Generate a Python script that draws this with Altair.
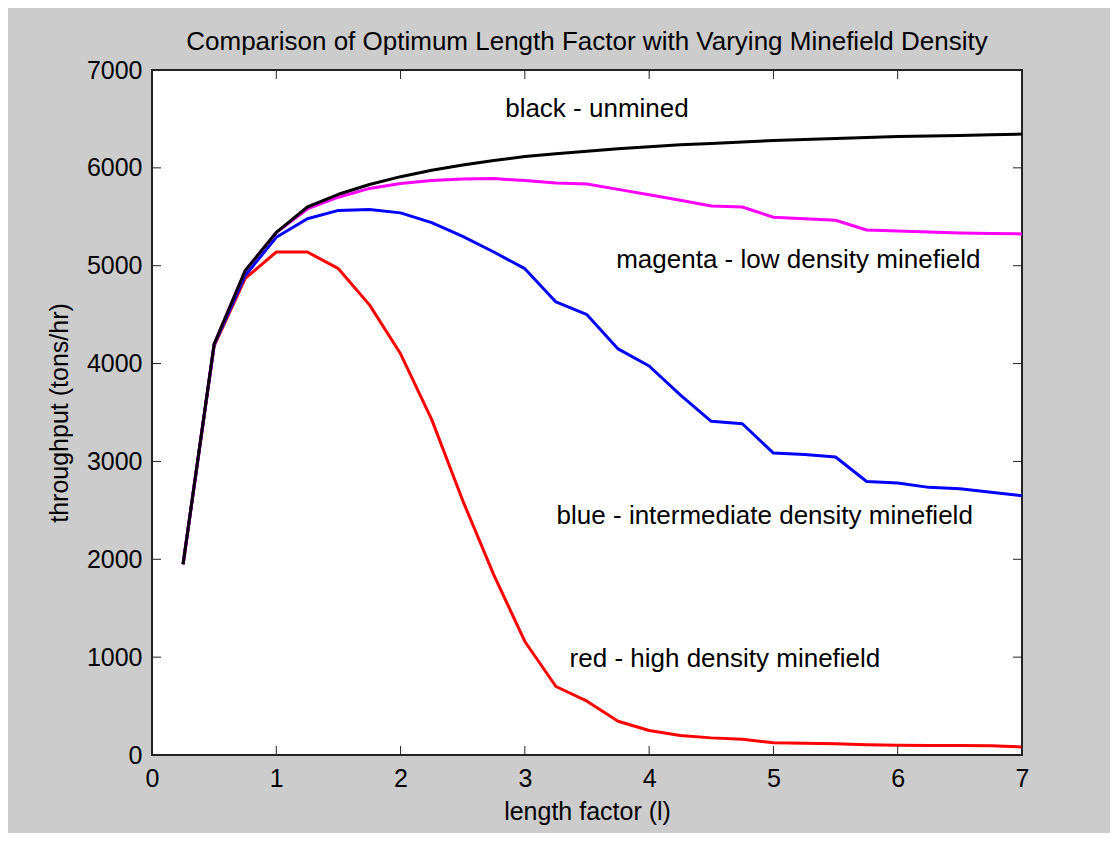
import altair as alt
import pandas as pd

# ---------------- data ----------------
length_factor = [0.25, 0.5, 0.75, 1.0, 1.25, 1.5, 1.75, 2.0, 2.25, 2.5, 2.75, 3.0, 3.25, 3.5,
                 3.75, 4.0, 4.25, 4.5, 4.75, 5.0, 5.25, 5.5, 5.75, 6.0, 6.25, 6.5, 6.75, 7.0]

unmined = [1950, 4200, 4950, 5340, 5600, 5730, 5830, 5910, 5975, 6030, 6075, 6115, 6145, 6170,
           6195, 6215, 6235, 6250, 6265, 6280, 6290, 6300, 6310, 6320, 6325, 6330, 6338, 6345]

low_density = [1950, 4200, 4950, 5340, 5580, 5700, 5790, 5840, 5870, 5885, 5890, 5870, 5845, 5835,
               5780, 5725, 5670, 5610, 5600, 5495, 5480, 5465, 5365, 5355, 5345, 5335, 5328, 5325]

intermediate_density = [1950, 4190, 4900, 5290, 5480, 5565, 5575, 5540, 5440, 5300, 5140, 4970, 4630, 4500,
                        4150, 3975, 3680, 3410, 3385, 3085, 3070, 3045, 2795, 2780, 2735, 2720, 2685, 2650]

high_density = [1950, 4180, 4870, 5140, 5140, 4970, 4600, 4100, 3430, 2600, 1840, 1160, 700, 550,
                345, 250, 200, 175, 162, 125, 120, 115, 105, 100, 98, 96, 94, 82]

series_names = ["red - high", "blue - intermediate", "magenta - low", "black - unmined"]
series_values = [high_density, intermediate_density, low_density, unmined]
series_colors = ["#ff0000", "#0000ff", "#ff00ff", "#000000"]

x_ticks = [0, 1, 2, 3, 4, 5, 6, 7]
y_ticks = [0, 1000, 2000, 3000, 4000, 5000, 6000, 7000]

note_texts = ["black - unmined", "magenta - low density minefield",
              "blue - intermediate density minefield", "red - high density minefield"]
note_x = [3.58, 5.20, 4.93, 4.61]
note_y = [6520, 4975, 2364, 901]

title_text = "Comparison of Optimum Length Factor with Varying Minefield Density"
x_title = "length factor (l)"
y_title = "throughput (tons/hr)"

# ---------------- chart ----------------
W, H = 870, 685
FONT = "Liberation Sans"
FRAME = "#222222"

X = alt.X("x:Q", scale=alt.Scale(domain=[0, 7], nice=False, zero=False),
          axis=alt.Axis(values=x_ticks, format="d", title=x_title, labelPadding=11, labelFlush=False,
                        titleX=W / 2, titleY=64, titleAlign="center", titleBaseline="alphabetic"))
Y = alt.Y("y:Q", scale=alt.Scale(domain=[0, 7000], nice=False, zero=False),
          axis=alt.Axis(values=y_ticks, format="d", title=y_title, labelPadding=10, labelFlush=False,
                        titleX=-85, titleY=H / 2, titleAlign="center", titleBaseline="alphabetic"))

layers = []
for name, vals, col in zip(series_names, series_values, series_colors):
    df = pd.DataFrame({"x": length_factor, "y": vals, "series": name})
    layers.append(
        alt.Chart(df).mark_line(color=col, strokeWidth=3, strokeJoin="round", clip=True)
        .encode(x=X, y=Y)
    )

notes = pd.DataFrame({"x": note_x, "y": note_y, "label": note_texts})
layers.append(
    alt.Chart(notes).mark_text(font=FONT, fontSize=26, color="#000000", align="center",
                               baseline="alphabetic")
    .encode(x=X, y=Y, text="label:N")
)

# chart title as a text mark placed above the plot frame
title_df = pd.DataFrame({"label": [title_text]})
layers.append(
    alt.Chart(title_df).mark_text(font=FONT, fontSize=26, color="#000000", align="center",
                                  baseline="alphabetic")
    .encode(x=alt.value(W / 2), y=alt.value(-20), text="label:N")
)

xt = pd.DataFrame({"x": x_ticks})
yt = pd.DataFrame({"y": y_ticks})
TL = 9
layers.append(alt.Chart(xt).mark_rule(color=FRAME, strokeWidth=1)
              .encode(x=X, y=alt.value(H), y2=alt.value(H - TL)))
layers.append(alt.Chart(xt).mark_rule(color=FRAME, strokeWidth=1)
              .encode(x=X, y=alt.value(0), y2=alt.value(TL)))
layers.append(alt.Chart(yt).mark_rule(color=FRAME, strokeWidth=1)
              .encode(y=Y, x=alt.value(0), x2=alt.value(TL)))
layers.append(alt.Chart(yt).mark_rule(color=FRAME, strokeWidth=1)
              .encode(y=Y, x=alt.value(W), x2=alt.value(W - TL)))

chart = (
    alt.layer(*layers)
    .properties(
        width=W, height=H,
        autosize=alt.AutoSizeParams(type="none"),
        padding={"left": 144, "top": 62, "right": 88, "bottom": 78},
    )
    .configure(background="#cccccc")
    .configure_view(fill="#ffffff", stroke=FRAME, strokeWidth=2)
    .configure_axis(domain=False, ticks=False, grid=False,
                    labelFont=FONT, labelFontSize=25, labelColor="#000000",
                    titleFont=FONT, titleFontSize=25, titleFontWeight="normal", titleColor="#000000")
)

chart.save("out.html", embed_options={"renderer": "svg", "actions": False})
